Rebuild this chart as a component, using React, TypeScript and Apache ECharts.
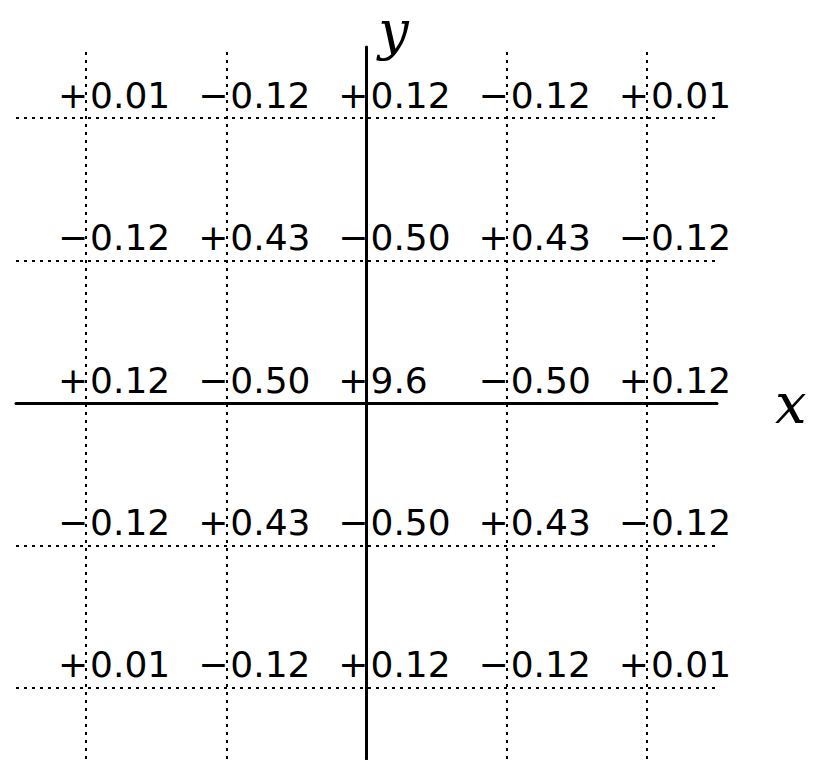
import React, { useEffect, useRef } from "react";
import * as echarts from "echarts";

// grid positions (axis units)
const columns = [-2, -1, 0, 1, 2];
const rows = [2, 1, 0, -1, -2];

// printed values, one array per row (top to bottom)
const rowTop = ["+0.01", "−0.12", "+0.12", "−0.12", "+0.01"];
const rowUpper = ["−0.12", "+0.43", "−0.50", "+0.43", "−0.12"];
const rowMiddle = ["+0.12", "−0.50", "+9.6", "−0.50", "+0.12"];
const rowLower = ["−0.12", "+0.43", "−0.50", "+0.43", "−0.12"];
const rowBottom = ["+0.01", "−0.12", "+0.12", "−0.12", "+0.01"];
const rowLabels = [rowTop, rowUpper, rowMiddle, rowLower, rowBottom];

const axisNames = { x: "x", y: "y" };

export default function App() {
  const ref = useRef<HTMLDivElement>(null);
  useEffect(() => {
    if (!ref.current) return;
    const chart = echarts.init(ref.current, undefined, { renderer: "svg" });
    const data: any[] = [];
    rows.forEach((ry, i) => {
      columns.forEach((cx, j) => {
        data.push({ value: [cx, ry], name: rowLabels[i][j] });
      });
    });
    const font = "DejaVu Sans";
    const dash = { type: [3, 5] as any, width: 2, color: "#000", opacity: 1 };
    const markLineCommon = {
      silent: true,
      symbol: ["none", "none"],
      label: { show: false },
      emphasis: { disabled: true },
      lineStyle: dash,
      animation: false,
    };
    const labelCommon = {
      show: true,
      position: "inside",
      verticalAlign: "middle",
      fontFamily: font,
      fontSize: 36,
      color: "#000",
      opacity: 1,
      textBorderWidth: 0,
    };
    chart.setOption({
      animation: false,
      backgroundColor: "#ffffff",
      grid: { left: 16, right: 103, top: 47, bottom: 1, containLabel: false },
      xAxis: {
        type: "value",
        min: -2.5,
        max: 2.5,
        z: 5,
        name: axisNames.x,
        nameLocation: "end",
        nameGap: 58,
        nameTextStyle: {
          fontFamily: "DejaVu Serif",
          fontStyle: "italic",
          fontSize: 56,
          color: "#000",
        },
        axisLine: { show: true, onZero: true, lineStyle: { color: "#000", width: 3 } },
        axisTick: { show: false },
        axisLabel: { show: false },
        splitLine: { show: false },
      },
      yAxis: {
        type: "value",
        min: -2.5,
        max: 2.5,
        z: 5,
        name: axisNames.y,
        nameLocation: "end",
        nameGap: -10,
        nameTextStyle: {
          fontFamily: "DejaVu Serif",
          fontStyle: "italic",
          fontSize: 54,
          lineHeight: 54,
          color: "#000",
          padding: [0, 0, 0, 54],
        },
        axisLine: { show: true, onZero: true, lineStyle: { color: "#000", width: 3 } },
        axisTick: { show: false },
        axisLabel: { show: false },
        splitLine: { show: false },
      },
      series: [
        {
          type: "scatter",
          name: "sign",
          data,
          symbolSize: 1,
          itemStyle: { color: "transparent" },
          silent: true,
          z: 6,
          label: {
            ...labelCommon,
            align: "right",
            offset: [2, -23],
            formatter: (p: any) => p.name.charAt(0),
          },
          markLine: {
            ...markLineCommon,
            data: columns.map((c) => ({ xAxis: c })),
          },
        },
        {
          type: "scatter",
          name: "value",
          data,
          symbolSize: 1,
          itemStyle: { color: "transparent" },
          silent: true,
          z: 6,
          label: {
            ...labelCommon,
            align: "left",
            offset: [4, -23],
            formatter: (p: any) => p.name.slice(1),
          },
          markLine: {
            ...markLineCommon,
            data: rows.map((r) => ({ yAxis: r })),
          },
        },
      ],
    });
    return () => chart.dispose();
  }, []);
  return (
    <div
      ref={ref}
      style={{ position: "absolute", left: 0, top: 0, width: 820, height: 760 }}
    />
  );
}
